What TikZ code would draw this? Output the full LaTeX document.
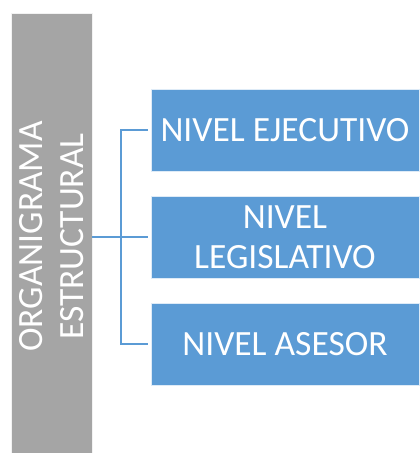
\documentclass[tikz,border=0pt]{standalone}
\usepackage{fontspec}
\setmainfont{Carlito}
\definecolor{grayfill}{HTML}{A5A5A5}
\definecolor{bluefill}{HTML}{5B9BD5}
\tikzset{
  bigtext/.style={font=\fontsize{35.5}{40.5}\selectfont, text=white, align=center, inner sep=0pt},
  graybar/.style={bigtext, fill=grayfill, draw=white!85!grayfill, line width=0.8pt},
  levelbox/.style={bigtext, fill=bluefill, draw=white!80!bluefill, line width=0.8pt, minimum width=268pt, minimum height=82pt},
  conn/.style={draw=bluefill, line width=2pt}
}
\begin{document}
\begin{tikzpicture}[x=1pt,y=1pt]
\useasboundingbox (0,0) rectangle (420,453);
\node[graybar, rotate=90, minimum width=447pt, minimum height=81pt] (root) at (51.5,216.5) {ORGANIGRAMA\\ESTRUCTURAL};
\node[levelbox] (b1) at (285,323) {NIVEL EJECUTIVO};
\node[levelbox] (b2) at (285,216) {NIVEL\\LEGISLATIVO};
\node[levelbox] (b3) at (285,109) {NIVEL ASESOR};
\coordinate (j) at (121,216);
\draw[conn] (root.south |- b2.west) -- ([xshift=-3pt]b2.west);
\draw[conn] ([xshift=-3pt]b1.west) -- (b1.west -| j) -- (b3.west -| j) -- ([xshift=-3pt]b3.west);
\end{tikzpicture}
\end{document}
